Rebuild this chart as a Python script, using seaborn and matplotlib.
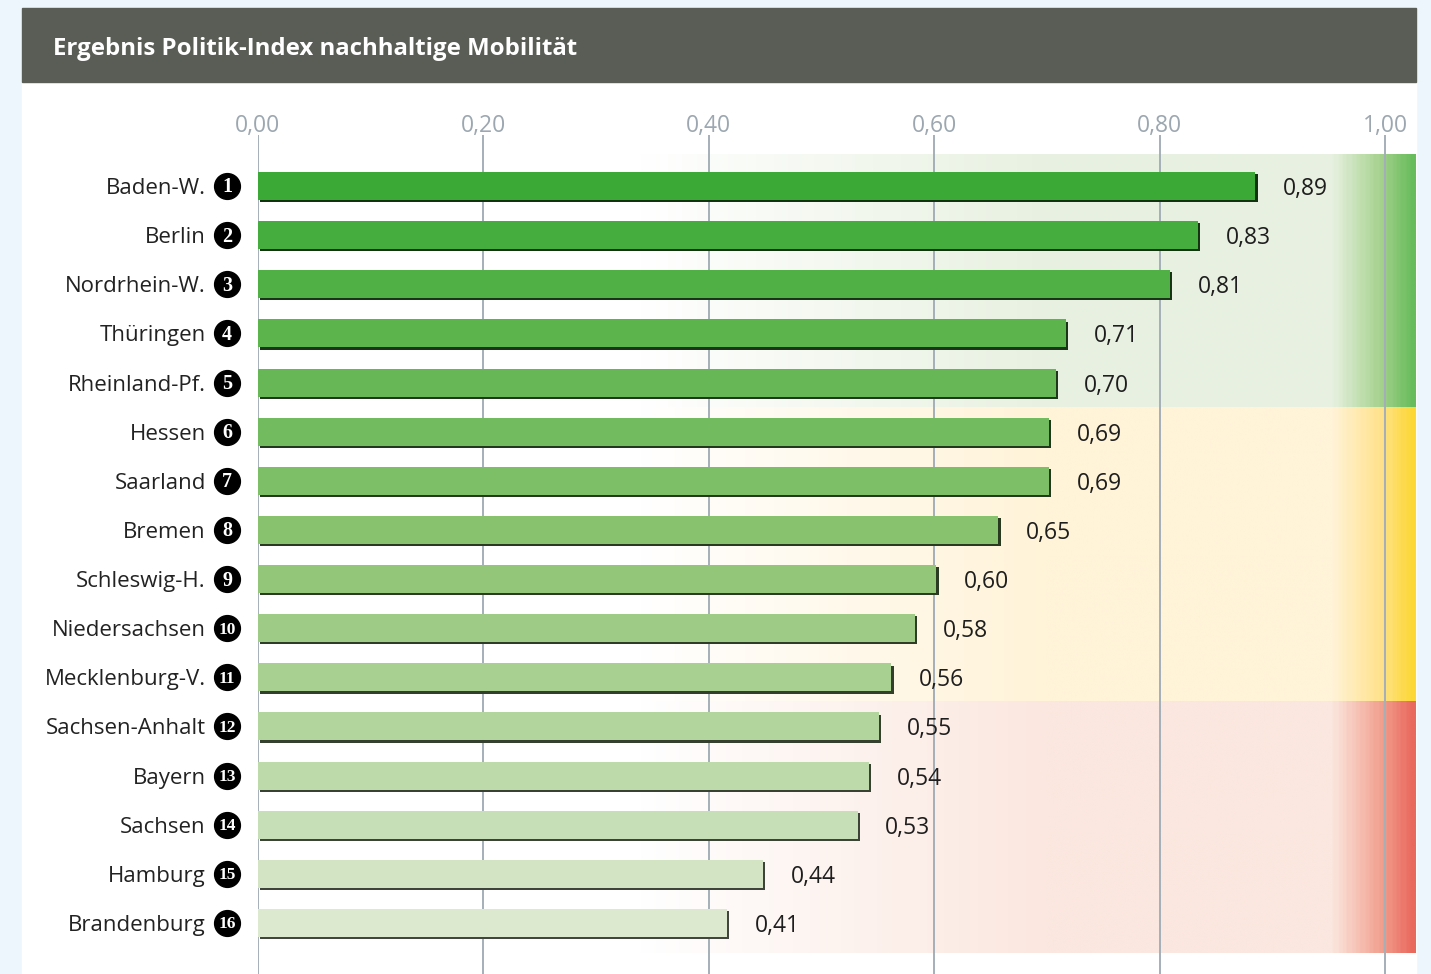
import numpy as np
import pandas as pd
import seaborn as sns
import matplotlib.pyplot as plt
import matplotlib.patheffects as pe
from matplotlib.patches import Rectangle
from matplotlib.colors import LinearSegmentedColormap

# data (bar lengths as drawn, labels as printed)
states = ["Baden-W.", "Berlin", "Nordrhein-W.", "Thüringen", "Rheinland-Pf.",
          "Hessen", "Saarland", "Bremen", "Schleswig-H.", "Niedersachsen",
          "Mecklenburg-V.", "Sachsen-Anhalt", "Bayern", "Sachsen", "Hamburg",
          "Brandenburg"]
scores = [0.885, 0.834, 0.809, 0.717, 0.708, 0.702, 0.702, 0.657, 0.602, 0.583,
          0.562, 0.551, 0.542, 0.532, 0.448, 0.416]
score_labels = ["0,89", "0,83", "0,81", "0,71", "0,70", "0,69", "0,69", "0,65",
                "0,60", "0,58", "0,56", "0,55", "0,54", "0,53", "0,44", "0,41"]
ranks = list(range(1, 17))
tick_vals = [0.0, 0.2, 0.4, 0.6, 0.8, 1.0]
tick_labels = ["0,00", "0,20", "0,40", "0,60", "0,80", "1,00"]

# rating zones (green / yellow / red): row edges and tint / mid / full colour
zone_edges = [-0.63, 4.5, 10.5, 15.61]
zone_colors = [("#e8f1e1", "#a6d28e", "#68bc5b"),
               ("#fff3d8", "#ffe28c", "#fdd835"),
               ("#fbe7df", "#f2a190", "#e9695d")]

df = pd.DataFrame({"state": states, "score": scores})

W, H = 1431, 974
sns.set_theme(style="white")
plt.rcParams["font.family"] = ["Open Sans", "DejaVu Sans"]

fig = plt.figure(figsize=(W / 100, H / 100), dpi=100)
fig.patch.set_facecolor("#eef6fd")

# white panel + title bar
fig.patches.append(Rectangle((22 / W, 0), 1394 / W, 1 - 82 / H,
                             transform=fig.transFigure, color="white", zorder=-2))
fig.patches.append(Rectangle((22 / W, 1 - 82 / H), 1394 / W, 74 / H,
                             transform=fig.transFigure, color="#595d55", zorder=-2))
fig.text(53 / W, 1 - 46 / H, "Ergebnis Politik-Index nachhaltige Mobilität",
         color="white", fontsize=17.3, fontweight="bold", va="center_baseline",
         ha="left")

ax = fig.add_axes([258 / W, 0, (1416 - 258) / W, (H - 135) / H])
ax.set_facecolor("none")
xmax = (1416 - 258) / 1127

bar_colors = sns.blend_palette(["#3aa935", "#8ec472", "#dce9cf"], 16)
sns.barplot(data=df, x="score", y="state", hue="state", palette=bar_colors,
            legend=False, orient="h", width=0.57, saturation=1,
            edgecolor="none", ax=ax)

for p in ax.patches:
    p.set_path_effects([pe.SimplePatchShadow(offset=(1.6, -1.6), alpha=1.0, rho=0.3),
                        pe.Normal()])

# zone backgrounds
grad = np.linspace(0, 1, 600).reshape(1, -1)
for i, (tint, mid, full) in enumerate(zone_colors):
    cmap = LinearSegmentedColormap.from_list(
        "z", [(0, "white"), (0.33, "white"), (0.68, tint), (0.93, tint),
              (0.972, mid), (1.0, full)])
    ax.imshow(grad, cmap=cmap, extent=[0, xmax, zone_edges[i + 1], zone_edges[i]],
              aspect="auto", zorder=0, interpolation="bilinear")

# value labels
for cont, lab in zip(ax.containers, score_labels):
    txts = ax.bar_label(cont, labels=[lab], padding=20, fontsize=16.5,
                        color="#1e1e1e")
    for t in txts:
        t.set_va("center_baseline")

# rank badges
ax.scatter(np.full(16, -0.0275), np.arange(16), s=345, color="black",
           clip_on=False, zorder=5)
for i, r in enumerate(ranks):
    ax.text(-0.0275, i + 0.03, str(r), color="white", ha="center", va="center",
            fontsize=14.5 if r < 10 else 12.5, fontweight="bold",
            family="Liberation Serif", zorder=6, clip_on=False)

ax.set_xlim(0, xmax)
ax.set_ylim(16.038, -1.038)
ax.xaxis.set_ticks_position("top")
ax.set_xticks(tick_vals)
ax.set_xticklabels(tick_labels)
ax.tick_params(axis="x", length=0, pad=-2, labelsize=16.5, labelcolor="#9ca7b0")
ax.tick_params(axis="y", length=0, pad=37.5, labelsize=16, labelcolor="#222222")
ax.set_axisbelow(True)
ax.grid(axis="x", color="#a4afb8", lw=1.4)
ax.grid(axis="y", visible=False)
for s in ax.spines.values():
    s.set_visible(False)
ax.set_xlabel("")
ax.set_ylabel("")

fig.savefig("out.png", dpi=100, facecolor=fig.get_facecolor())
